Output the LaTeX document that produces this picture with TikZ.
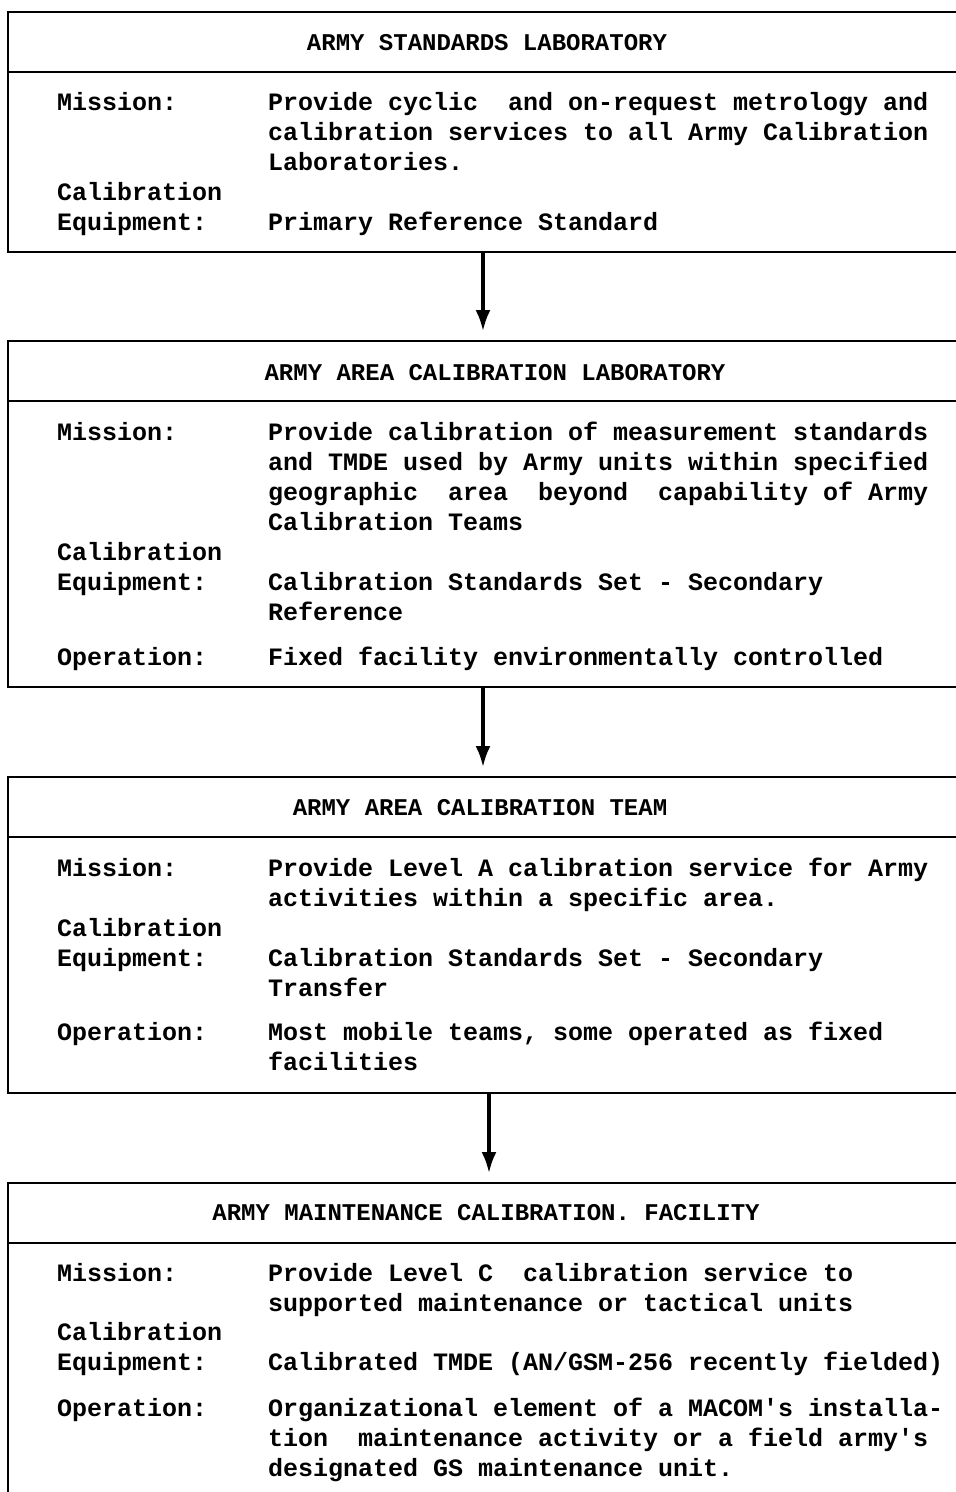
\documentclass[tikz,border=0pt]{standalone}
\usepackage{fontspec}
\setmonofont{Liberation Mono}
\usetikzlibrary{arrows.meta}

\tikzset{
  box/.style={draw, line width=2.8pt, anchor=north west, minimum width=967pt, outer sep=0pt, inner sep=0pt},
  hdr/.style={anchor=base, inner sep=0pt, font=\ttfamily\bfseries\fontsize{24}{30}\selectfont},
  lbl/.style={anchor=base west, inner sep=0pt, font=\ttfamily\bfseries\fontsize{25}{30}\selectfont},
  flow/.style={line width=3.2pt, -{Latex[length=21pt,width=15pt]}, shorten >=10pt},
}

\begin{document}
\begin{tikzpicture}[x=1pt,y=-1pt]
\useasboundingbox (0,0) rectangle (956,1492);
\clip (0,0) rectangle (956,1492);

% the four boxes
\node[box, minimum height=240pt] (asl) at (8,12) {};
\node[box, minimum height=346pt] (aacl) at (8,341) {};
\node[box, minimum height=316pt] (aact) at (8,777) {};
\node[box, minimum height=327pt] (amcf) at (8,1183) {};
\foreach \b in {asl,aacl,aact,amcf}
  \draw[line width=2.8pt] ([yshift=-60pt]\b.north west) -- ([yshift=-60pt]\b.north east);

% titles
\node[hdr] (asl-h) at (487,50) {ARMY STANDARDS LABORATORY};
\node[hdr] (aacl-h) at (495,380) {ARMY AREA CALIBRATION LABORATORY};
\node[hdr] (aact-h) at (480,815) {ARMY AREA CALIBRATION TEAM};
\node[hdr] (amcf-h) at (486,1220) {ARMY MAINTENANCE CALIBRATION. FACILITY};

% body lines
\foreach \y/\l/\t [count=\i] in {
    110/Mission:/{Provide cyclic~ and on-request metrology and},
    140//{calibration services to all Army Calibration},
    170//{Laboratories.},
    200/Calibration/,
    230/Equipment:/{Primary Reference Standard}
  }
  \node[lbl] (asl-l\i) at (57,\y) {\l}
    node[lbl] (asl-t\i) at (268,\y) {\t};

\foreach \y/\l/\t [count=\i] in {
    440/Mission:/{Provide calibration of measurement standards},
    470//{and TMDE used by Army units within specified},
    500//{geographic~ area~ beyond~ capability of Army},
    530//{Calibration Teams},
    560/Calibration/,
    590/Equipment:/{Calibration Standards Set - Secondary},
    620//{Reference},
    665/Operation:/{Fixed facility environmentally controlled}
  }
  \node[lbl] (aacl-l\i) at (57,\y) {\l}
    node[lbl] (aacl-t\i) at (268,\y) {\t};

\foreach \y/\l/\t [count=\i] in {
    876/Mission:/{Provide Level A calibration service for Army},
    906//{activities within a specific area.},
    936/Calibration/,
    966/Equipment:/{Calibration Standards Set - Secondary},
    996//{Transfer},
    1040/Operation:/{Most mobile teams, some operated as fixed},
    1070//{facilities}
  }
  \node[lbl] (aact-l\i) at (57,\y) {\l}
    node[lbl] (aact-t\i) at (268,\y) {\t};

\foreach \y/\l/\t [count=\i] in {
    1281/Mission:/{Provide Level C~ calibration service to},
    1311//{supported maintenance or tactical units},
    1340/Calibration/,
    1370/Equipment:/{Calibrated TMDE (AN/GSM-256 recently fielded)},
    1416/Operation:/{Organizational element of a MACOM's installa-},
    1446//{tion~ maintenance activity or a field army's},
    1476//{designated GS maintenance unit.}
  }
  \node[lbl] (amcf-l\i) at (57,\y) {\l}
    node[lbl] (amcf-t\i) at (268,\y) {\t};

% arrows
\draw[flow] ([xshift=-8.5pt]asl.south) -- ([xshift=-8.5pt]aacl.north);
\draw[flow] ([xshift=-8.5pt]aacl.south) -- ([xshift=-8.5pt]aact.north);
\draw[flow] ([xshift=-2.5pt]aact.south) -- ([xshift=-2.5pt]amcf.north);
\end{tikzpicture}
\end{document}
